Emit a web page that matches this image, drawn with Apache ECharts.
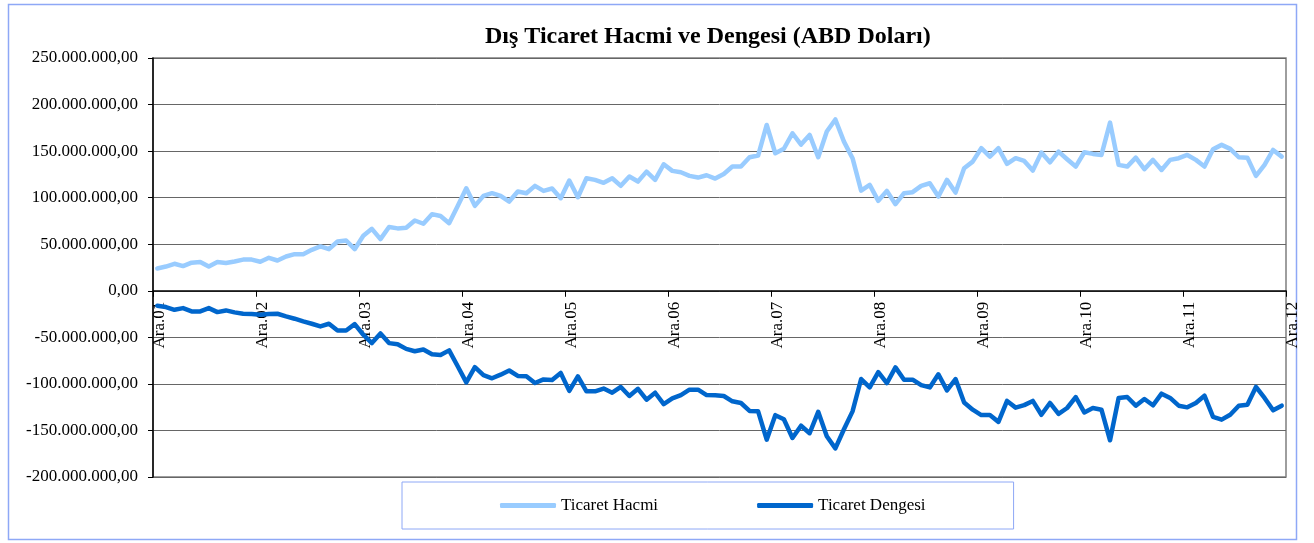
<!DOCTYPE html>
<html>
<head>
<meta charset="utf-8">
<script src="https://cdn.jsdelivr.net/npm/echarts@6/dist/echarts.min.js"></script>
<style>
  html, body { margin: 0; padding: 0; background: #fff; }
  #chart { width: 1314px; height: 543px; }
</style>
</head>
<body>
<div id="chart"></div>
<script>
// Monthly categories: Ara.01 (Dec 2001) ... Kas.12 (Nov 2012), 132 months
const monthNames = ['Ara', 'Oca', 'Şub', 'Mar', 'Nis', 'May', 'Haz', 'Tem', 'Ağu', 'Eyl', 'Eki', 'Kas'];
const tickLabels = ['Ara.01', 'Ara.02', 'Ara.03', 'Ara.04', 'Ara.05', 'Ara.06', 'Ara.07', 'Ara.08', 'Ara.09', 'Ara.10', 'Ara.11', 'Ara.12'];

// Ticaret Hacmi (million USD)
const ticaretHacmi = [
  24, 26, 29, 26.5, 30.2, 31, 26, 30.8, 29.8, 31.5, 33.5, 33.5,
  31.2, 35.4, 32.5, 36.8, 39.3, 39.3, 44, 47.6, 44.7, 52.9, 54, 44.7,
  59, 66.5, 55.5, 68.5, 67, 67.7, 75.5, 72, 82.3, 80.3, 72.6, 91,
  110, 91.2, 101.9, 104.8, 101.9, 95.8, 106.6, 104.8, 112.7, 107.3, 109.8, 99.4,
  118.4, 100.5, 120.9, 119.1, 116, 120.9, 112.7, 122.7, 117.3, 128, 119.1, 135.9,
  128.8, 127.3, 123.4, 121.6, 124.1, 120.5, 125.5, 133.4, 133.4, 143.4, 145.2, 178.1,
  147.7, 152.5, 169.2, 157, 167.4, 143.4, 171, 184, 160.2, 142.4, 107.6, 113.7,
  96.6, 107.3, 93, 104.8, 105.9, 112.7, 115.5, 101.2, 119.1, 105.5, 131.6, 138.7,
  153.1, 144.1, 153.1, 136.3, 142.4, 139.5, 129.1, 148.4, 138, 149.5, 141.3, 133.4,
  148.8, 147, 145.9, 180.6, 135.2, 133.4, 143, 130.6, 140.6, 129.8, 140.6, 142.4,
  145.9, 140.6, 133.4, 152, 156.7, 152.4, 143.4, 143, 123.4, 135.2, 151.3, 144.1
];

// Ticaret Dengesi (million USD)
const ticaretDengesi = [
  -16, -17.5, -20.4, -18.6, -22.2, -22.2, -18.6, -22.9, -21.1, -23.2, -24.7, -25,
  -25.8, -25, -24.7, -27.5, -30, -32.9, -35.4, -38.3, -35.4, -42.6, -42.6, -35.8,
  -47.2, -56.2, -45.8, -56.2, -57.4, -62.4, -64.9, -63, -68.2, -68.9, -64, -81,
  -98.4, -82, -90.6, -94, -90.1, -85.6, -91.5, -91.9, -99.1, -95.2, -95.8, -88.3,
  -107.5, -92, -108, -108, -105, -109.5, -103.3, -113, -105.3, -117, -109.5, -121.8,
  -115.6, -112, -106.2, -106.2, -112, -112.3, -113, -118.7, -120.5, -129, -129.5, -159.9,
  -133.6, -138, -158.1, -144.9, -153, -130, -156.3, -169.3, -148.7, -129.5, -94.8, -103.8,
  -87.4, -99.1, -82.3, -95.5, -95.5, -101.4, -103.8, -89.7, -107, -94.8, -120, -127.7,
  -133.5, -133.5, -140.8, -118.3, -125.5, -122.8, -118.3, -133.2, -120.5, -132.3, -125.9, -114.1,
  -130.6, -125.9, -127.7, -160.6, -115.1, -114.1, -123.4, -116.2, -123, -110.5, -115.1, -123.4,
  -125.2, -120.5, -112.7, -135.5, -138.4, -133.1, -123.4, -122.3, -103.3, -115.1, -128.4, -123.4
];

const categories = ticaretHacmi.map((_, i) => {
  const yr = 1 + Math.floor((i + 11) / 12);
  return monthNames[i % 12] + '.' + String(yr).padStart(2, '0');
});

// each month occupies one band on the x scale; point sits at band centre
const toPoints = arr => arr.map((v, i) => [i + 0.5, v, categories[i]]);

function fmtTR(vMn) {
  const n = Math.round(vMn * 1e6);
  const s = Math.abs(n).toString().replace(/\B(?=(\d{3})+(?!\d))/g, '.');
  return (n < 0 ? '-' : '') + s + ',00';
}

const Y_MIN = -200, Y_MAX = 250;
const GRID = { left: 153, top: 58, right: 28, bottom: 66 };
const plotH = 543 - GRID.top - GRID.bottom;
// move the category axis (line, ticks, labels) up to the zero line
const zeroOffset = -plotH * (0 - Y_MIN) / (Y_MAX - Y_MIN);

const serif = "'Liberation Serif', 'Times New Roman', serif";
const chart = echarts.init(document.getElementById('chart'), null, { renderer: 'canvas' });
chart.setOption({
  animation: false,
  backgroundColor: '#ffffff',
  title: {
    text: 'Dış Ticaret Hacmi ve Dengesi (ABD Doları)',
    left: 480,
    top: 20,
    textStyle: { fontFamily: serif, fontSize: 24, fontWeight: 'bold', color: '#000' }
  },
  graphic: [{
    type: 'rect',
    shape: { x: 8.5, y: 4.5, width: 1288, height: 535 },
    style: { fill: 'none', stroke: '#8ea8f6', lineWidth: 1.5 },
    silent: true
  }],
  legend: {
    left: 402,
    top: 482,
    padding: [15, 88, 15, 98],
    itemGap: 99,
    itemWidth: 56,
    itemHeight: 5,
    itemTextGap: 5,
    icon: 'roundRect',
    borderColor: '#8ea8f6',
    borderWidth: 1,
    textStyle: { fontFamily: serif, fontSize: 17, color: '#000' },
    data: ['Ticaret Hacmi', 'Ticaret Dengesi']
  },
  grid: Object.assign({ show: true, borderColor: '#7f7f7f', borderWidth: 1.5 }, GRID),
  xAxis: {
    type: 'value',
    min: 0,
    max: 132,
    interval: 12,
    offset: zeroOffset,
    axisLine: { onZero: false, lineStyle: { color: '#000', width: 1.5 } },
    axisTick: { show: true, length: 6, lineStyle: { color: '#000' } },
    splitLine: { show: false },
    axisLabel: {
      rotate: 90,
      margin: 11,
      verticalAlign: 'top',
      lineHeight: 13,
      fontFamily: serif,
      fontSize: 17,
      color: '#000',
      showMinLabel: true,
      showMaxLabel: true,
      formatter: v => tickLabels[Math.round(v / 12)]
    }
  },
  yAxis: {
    type: 'value',
    min: Y_MIN,
    max: Y_MAX,
    interval: 50,
    axisLine: { show: true, onZero: false, lineStyle: { color: '#000', width: 1.5 } },
    axisTick: { show: true, length: 5, lineStyle: { color: '#000' } },
    splitLine: { show: true, lineStyle: { color: '#666', width: 1 } },
    axisLabel: {
      margin: 15,
      fontFamily: serif,
      fontSize: 17,
      color: '#000',
      formatter: fmtTR
    }
  },
  series: [
    {
      name: 'Ticaret Hacmi',
      type: 'line',
      data: toPoints(ticaretHacmi),
      symbol: 'none',
      color: '#99ccff',
      lineStyle: { color: '#99ccff', width: 4.5, join: 'round', cap: 'round' }
    },
    {
      name: 'Ticaret Dengesi',
      type: 'line',
      data: toPoints(ticaretDengesi),
      symbol: 'none',
      color: '#0066cc',
      lineStyle: { color: '#0066cc', width: 4.5, join: 'round', cap: 'round' }
    }
  ]
});
</script>
</body>
</html>
